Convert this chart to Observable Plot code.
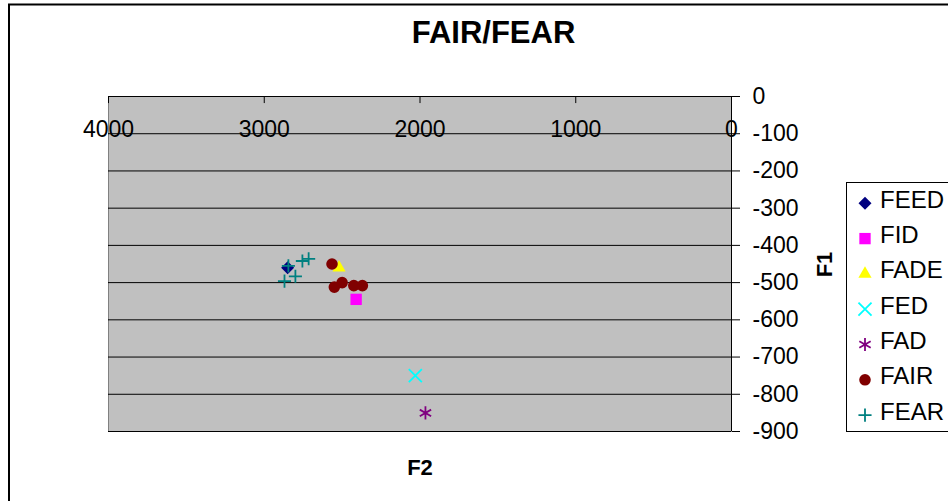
<!DOCTYPE html>
<html>
<head>
<meta charset="utf-8">
<script src="https://cdn.jsdelivr.net/npm/d3@7"></script>
<script src="https://cdn.jsdelivr.net/npm/@observablehq/plot@0.6"></script>
<style>
  body { margin: 0; background: #fff; }
  svg { display: block; }
</style>
</head>
<body>
<div id="chart"></div>
<script>
// Formant measurements (F2, F1) per word
const FEED = [{f2: 2850, f1: -460}];
const FID  = [{f2: 2410, f1: -545}];
const FADE = [{f2: 2520, f1: -460}];
const FED  = [{f2: 2030, f1: -750}];
const FAD  = [{f2: 1965, f1: -850}];
const FAIR = [
  {f2: 2565, f1: -450}, {f2: 2500, f1: -500}, {f2: 2550, f1: -512},
  {f2: 2425, f1: -508}, {f2: 2370, f1: -508}
];
const FEAR = [
  {f2: 2715, f1: -436}, {f2: 2755, f1: -442}, {f2: 2845, f1: -455},
  {f2: 2800, f1: -483}, {f2: 2870, f1: -496}
];

const seriesNames = ["FEED", "FID", "FADE", "FED", "FAD", "FAIR", "FEAR"];
const seriesData = {FEED, FID, FADE, FED, FAD, FAIR, FEAR};

const xTicks = [4000, 3000, 2000, 1000, 0];
const yTicks = [0, -100, -200, -300, -400, -500, -600, -700, -800, -900];

// A square turned on its corner
const diamond = {
  draw(context, size) {
    const h = Math.sqrt(size / Math.PI);
    context.moveTo(0, -h);
    context.lineTo(h, 0);
    context.lineTo(0, h);
    context.lineTo(-h, 0);
    context.closePath();
  }
};

const markerStyle = {
  FEED: {symbol: diamond, fill: "#000080", stroke: "none", r: 6.5},
  FID:  {symbol: d3.symbolSquare, fill: "#ff00ff", stroke: "none", r: 6.4},
  FADE: {symbol: d3.symbolTriangle, fill: "#ffff00", stroke: "none", r: 4.9},
  FED:  {symbol: d3.symbolTimes, fill: "none", stroke: "#00ffff", r: 6.0, strokeWidth: 1.8},
  FAD:  {symbol: d3.symbolAsterisk, fill: "none", stroke: "#800080", r: 6.2, strokeWidth: 1.8},
  FAIR: {symbol: d3.symbolCircle, fill: "#800000", stroke: "none", r: 5.8},
  FEAR: {symbol: d3.symbolPlus, fill: "none", stroke: "#008080", r: 4.3, strokeWidth: 1.8}
};

const font = "'Liberation Sans', Arial, Helvetica, sans-serif";
const tickFont = 23;

const dotMarks = seriesNames.map(name => {
  const s = markerStyle[name];
  return Plot.dot(seriesData[name], {
    x: "f2", y: "f1",
    symbol: () => s.symbol,
    r: s.r,
    fill: s.fill,
    stroke: s.stroke,
    strokeWidth: s.strokeWidth || 1
  });
});

const chart = Plot.plot({
  width: 948,
  height: 501,
  marginLeft: 108,
  marginRight: 217,
  marginTop: 96,
  marginBottom: 70,
  style: {fontFamily: font, fontSize: tickFont + "px", color: "#000", background: "#fff", overflow: "visible"},
  x: {domain: [4000, 0], axis: null},
  y: {domain: [-900, 0], axis: null},
  symbol: {type: "identity"},
  marks: [
    Plot.frame({fill: "#c0c0c0", stroke: "#808080"}),
    Plot.ruleY(yTicks, {stroke: "#000", strokeWidth: 1}),
    Plot.ruleX([0], {stroke: "#000", strokeWidth: 1}),
    // short ticks hanging down from the top (F1 = 0) line
    Plot.ruleX(xTicks, {y1: 0, y2: -19, stroke: "#000", strokeWidth: 1}),
    Plot.axisY({anchor: "right", ticks: yTicks, tickSize: 8, tickPadding: 13,
                tickFormat: d => String(d), label: null, fontSize: tickFont}),
    Plot.text(xTicks, {x: d => d, frameAnchor: "top", lineAnchor: "middle", dy: 33,
                       text: d => String(d), fontSize: tickFont, fill: "#000"}),
    ...dotMarks
  ]
});

document.getElementById("chart").append(chart);

const svg = d3.select(chart);

// outer chart border
svg.append("path")
  .attr("d", "M9,501V4.5H948")
  .attr("fill", "none")
  .attr("stroke", "#000")
  .attr("stroke-width", 2);

// title
svg.append("text")
  .attr("x", 493.5).attr("y", 43.3)
  .attr("text-anchor", "middle")
  .attr("font-family", font).attr("font-weight", "bold").attr("font-size", 31)
  .text("FAIR/FEAR");

// axis titles
svg.append("text")
  .attr("x", 420).attr("y", 475)
  .attr("text-anchor", "middle")
  .attr("font-family", font).attr("font-weight", "bold").attr("font-size", 22)
  .text("F2");

svg.append("text")
  .attr("transform", "translate(831.5,264.5) rotate(-90)")
  .attr("text-anchor", "middle")
  .attr("font-family", font).attr("font-weight", "bold").attr("font-size", 22)
  .text("F1");

// legend
const legend = svg.append("g");
legend.append("rect")
  .attr("x", 846.5).attr("y", 182.5)
  .attr("width", 200).attr("height", 249)
  .attr("fill", "#fff").attr("stroke", "#000").attr("stroke-width", 1);

seriesNames.forEach((name, i) => {
  const s = markerStyle[name];
  const cy = 203.3 + i * 35.3;
  legend.append("path")
    .attr("transform", `translate(865,${cy})`)
    .attr("d", d3.symbol(s.symbol, Math.PI * s.r * s.r)())
    .attr("fill", s.fill)
    .attr("stroke", s.stroke)
    .attr("stroke-width", s.strokeWidth || 1);
  legend.append("text")
    .attr("x", 880).attr("y", cy + 4.5)
    .attr("text-anchor", "start")
    .attr("font-family", font).attr("font-size", 24)
    .attr("fill", "#000")
    .text(name);
});
</script>
</body>
</html>
